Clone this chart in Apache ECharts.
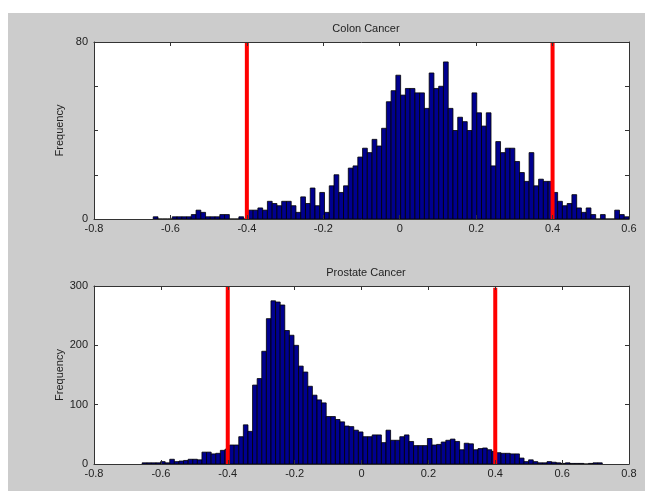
<!DOCTYPE html>
<html>
<head>
<meta charset="utf-8">
<script src="https://cdn.jsdelivr.net/npm/echarts@6/dist/echarts.min.js"></script>
<style>
  html, body { margin: 0; padding: 0; background: #fff; }
  #chart { width: 645px; height: 491px; }
</style>
</head>
<body>
<div id="chart"></div>
<script>
// histogram counts, one value per bin
const colonBinStart = -0.645;
const colonBinWidth = 0.01245;
const colonCounts = [
  1, 0, 0, 0, 1, 1, 1, 1, 2, 4,
  3, 1, 1, 1, 2, 2, 0, 0, 1, 0,
  4, 4, 5, 4, 8, 7, 6, 8, 8, 6,
  3, 10, 7, 14, 6, 12, 3, 15, 20, 12,
  15, 23, 24, 28, 32, 30, 36, 33, 41, 53,
  58, 65, 56, 59, 59, 57, 57, 50, 66, 59,
  60, 71, 50, 40, 46, 44, 40, 57, 48, 42,
  48, 24, 35, 30, 32, 32, 26, 21, 17, 30,
  15, 18, 17, 17, 12, 8, 6, 7, 11, 5,
  3, 5, 2, 0, 2, 0, 0, 4, 2, 1
];

const prostateBinStart = -0.656;
const prostateBinWidth = 0.01376;
const prostateCounts = [
  2, 2, 2, 2, 4, 2, 8, 4, 5, 6,
  8, 8, 7, 20, 20, 17, 18, 23, 25, 32,
  32, 46, 66, 55, 133, 144, 190, 245, 275, 273,
  268, 225, 217, 200, 165, 155, 131, 116, 108, 103,
  80, 80, 75, 71, 64, 63, 57, 54, 46, 46,
  49, 49, 36, 57, 40, 40, 46, 49, 38, 31,
  31, 31, 43, 32, 33, 37, 40, 42, 38, 24,
  35, 34, 24, 26, 27, 24, 21, 19, 18, 18,
  17, 17, 10, 4, 7, 4, 2, 2, 4, 3,
  2, 1, 2, 1, 1, 1, 0, 1, 2, 2
];

// red cutoff lines [x, top]
const colonCutoffs = [[-0.4, 80], [0.4, 80]];
const prostateCutoffs = [[-0.4, 300], [0.4, 297]];

const colonTicksX = [-0.8, 0.6, 0.2];
const prostateTicksX = [-0.8, 0.8, 0.2];
const colonShownY = [0, 80];

function toBins(start, width, counts) {
  return counts.map((c, i) => [start + i * width, start + (i + 1) * width, c]);
}

const txt = '#222';
const font = 'Liberation Sans, Arial, sans-serif';

function renderBar(params, api) {
  const p0 = api.coord([api.value(0), api.value(2)]);
  const p1 = api.coord([api.value(1), 0]);
  return {
    type: 'rect',
    shape: { x: p0[0], y: p0[1], width: p1[0] - p0[0], height: p1[1] - p0[1] },
    style: { fill: '#00008f', stroke: '#000', lineWidth: 0.8 }
  };
}

function frameX(grid, ticks, bottom) {
  return {
    type: 'value', gridIndex: grid, min: ticks[0], max: ticks[1], interval: ticks[2],
    position: bottom ? 'bottom' : 'top', z: 5,
    axisLine: { show: true, onZero: false, lineStyle: { color: '#333', width: 1 } },
    axisTick: { show: true, inside: true, length: 4, lineStyle: { color: '#333' } },
    axisLabel: bottom ? { show: true, color: txt, fontSize: 11, fontFamily: font, margin: 4 } : { show: false },
    splitLine: { show: false }
  };
}

function frameY(grid, max, interval, left, fmt) {
  return {
    type: 'value', gridIndex: grid, min: 0, max: max, interval: interval,
    position: left ? 'left' : 'right', z: 5,
    name: left ? 'Frequency' : '', nameLocation: 'middle', nameGap: 29,
    nameMoveOverlap: false,
    nameTextStyle: { color: txt, fontSize: 11, fontFamily: font },
    axisLine: { show: true, onZero: false, lineStyle: { color: '#333', width: 1 } },
    axisTick: { show: true, inside: true, length: 4, lineStyle: { color: '#333' } },
    axisLabel: left ? { show: true, color: txt, fontSize: 11, fontFamily: font, margin: 6, formatter: fmt } : { show: false },
    splitLine: { show: false }
  };
}

function cutoffSeries(cut, xi, yi) {
  return cut.map(c => ({
    type: 'line', xAxisIndex: xi, yAxisIndex: yi, z: 4,
    data: [[c[0], 0], [c[0], c[1]]],
    symbol: 'none', lineStyle: { color: '#ff0000', width: 4 }, silent: true
  }));
}

const chart = echarts.init(document.getElementById('chart'));
chart.setOption({
  animation: false,
  backgroundColor: '#fff',
  graphic: [{
    type: 'rect', z: -10, silent: true,
    shape: { x: 8, y: 13, width: 637, height: 478 },
    style: { fill: '#cccccc' }
  }],
  title: [
    { text: 'Colon Cancer', left: 361, top: 18, textAlign: 'center',
      textStyle: { color: txt, fontSize: 11, fontWeight: 'normal', fontFamily: font } },
    { text: 'Prostate Cancer', left: 361, top: 262, textAlign: 'center',
      textStyle: { color: txt, fontSize: 11, fontWeight: 'normal', fontFamily: font } }
  ],
  grid: [
    { left: 94, top: 42, width: 535, height: 177, show: true, backgroundColor: '#fff', borderWidth: 0 },
    { left: 94, top: 286, width: 535, height: 178, show: true, backgroundColor: '#fff', borderWidth: 0 }
  ],
  xAxis: [
    frameX(0, colonTicksX, true),
    frameX(0, colonTicksX, false),
    frameX(1, prostateTicksX, true),
    frameX(1, prostateTicksX, false)
  ],
  yAxis: [
    frameY(0, 80, 20, true, v => colonShownY.includes(v) ? String(v) : ''),
    frameY(0, 80, 20, false),
    frameY(1, 300, 100, true, v => String(v)),
    frameY(1, 300, 100, false)
  ],
  series: [
    { type: 'custom', xAxisIndex: 0, yAxisIndex: 0, z: 2, renderItem: renderBar,
      encode: { x: [0, 1], y: 2 }, data: toBins(colonBinStart, colonBinWidth, colonCounts) },
    { type: 'custom', xAxisIndex: 2, yAxisIndex: 2, z: 2, renderItem: renderBar,
      encode: { x: [0, 1], y: 2 }, data: toBins(prostateBinStart, prostateBinWidth, prostateCounts) },
    ...cutoffSeries(colonCutoffs, 0, 0),
    ...cutoffSeries(prostateCutoffs, 2, 2)
  ]
});
</script>
</body>
</html>
